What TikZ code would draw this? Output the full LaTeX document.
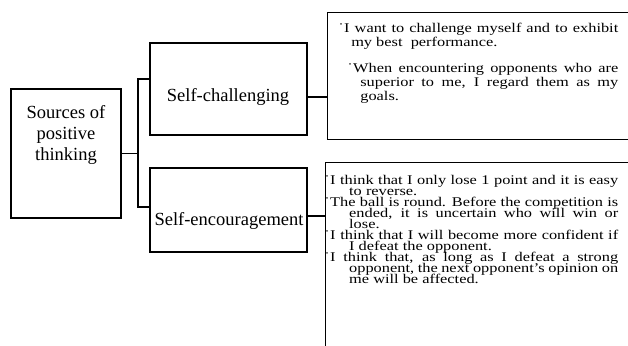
\documentclass[tikz,border=0pt]{standalone}
\usepackage{fontspec}
\setmainfont{Liberation Serif}
\newcommand{\tk}{\leavevmode\llap{˙\hspace{0.3pt}}}
\newcommand{\tightpar}{\parskip=0pt\relax\lineskiplimit=-20pt\relax\lineskip=0pt\relax\parindent=0pt\relax}
\begin{document}
\begin{tikzpicture}[x=1pt,y=-1pt,
  box/.style={draw, line width=1.2pt, inner sep=0pt},
  lab/.style={inner sep=0pt, font=\fontsize{18.5}{21}\selectfont},
  itemsA/.style={inner sep=0pt, xscale=1.23, transform shape, align=justify,
     font=\fontsize{13.3}{13.7}\selectfont},
  itemsB/.style={inner sep=0pt, xscale=1.23, transform shape, align=justify,
     font=\fontsize{13.3}{11.1}\selectfont},
  conn/.style={line width=1.2pt}]
\useasboundingbox (0,0) rectangle (628,345);
\clip (0,0) rectangle (628,345);
\node[box, minimum width=110pt, minimum height=129pt] (src) at (66,153.5) {};
\node[box, minimum width=157pt, minimum height=92pt] (sc) at (228.5,89) {};
\node[box, minimum width=157pt, minimum height=84pt] (se) at (228.5,210) {};
\node[box, anchor=north west, minimum width=330pt, minimum height=127pt] (b1) at (327,12) {};
\node[box, anchor=north west, minimum width=330pt, minimum height=220pt] (b2) at (325,162) {};
\node[lab, anchor=north, align=center] (srcl) at (66,105) {Sources of\\positive\\thinking};
\node[lab, anchor=base] (scl) at (228,101.7) {Self-challenging};
\node[lab, anchor=base] (sel) at (229,225.5) {Self-encouragement};
\node[itemsA, anchor=base west, text width=222.8pt] (t1) at (344,32.7) {\tightpar
\hangindent=5.7pt\hangafter=1 \tk I want to challenge myself and to exhibit\linebreak my best \ performance.\par
\vspace{12.6pt}
\hangindent=13.1pt\hangafter=1 \hspace*{7.3pt}\tk When encountering opponents who are\linebreak superior to me, I regard them as my\linebreak goals.\par};
\node[itemsB, anchor=base west, text width=234.1pt] (t2) at (330,184) {\tightpar
\hangindent=15.4pt\hangafter=1 \tk I think that I only lose 1 point and it is easy\linebreak to reverse.\par
\hangindent=15.4pt\hangafter=1 \tk The ball is round. Before the competition is\linebreak ended, it is uncertain who will win or\linebreak lose.\par
\hangindent=15.4pt\hangafter=1 \tk I think that I will become more confident if\linebreak I defeat the opponent.\par
\hangindent=15.4pt\hangafter=1 \tk I think that, as long as I defeat a strong\linebreak opponent, the next opponent’s opinion on\linebreak me will be affected.\par};
\coordinate (jn) at (138,153.5);
\draw[conn] (src.east) -- (jn);
\draw[conn] (sc.west |- 0,79) -| (jn) |- (se.west |- 0,207);
\draw[conn] (sc.east |- 0,97) -- (b1.west |- 0,97);
\draw[conn] (se.east |- 0,216) -- (b2.west |- 0,216);
\end{tikzpicture}
\end{document}
